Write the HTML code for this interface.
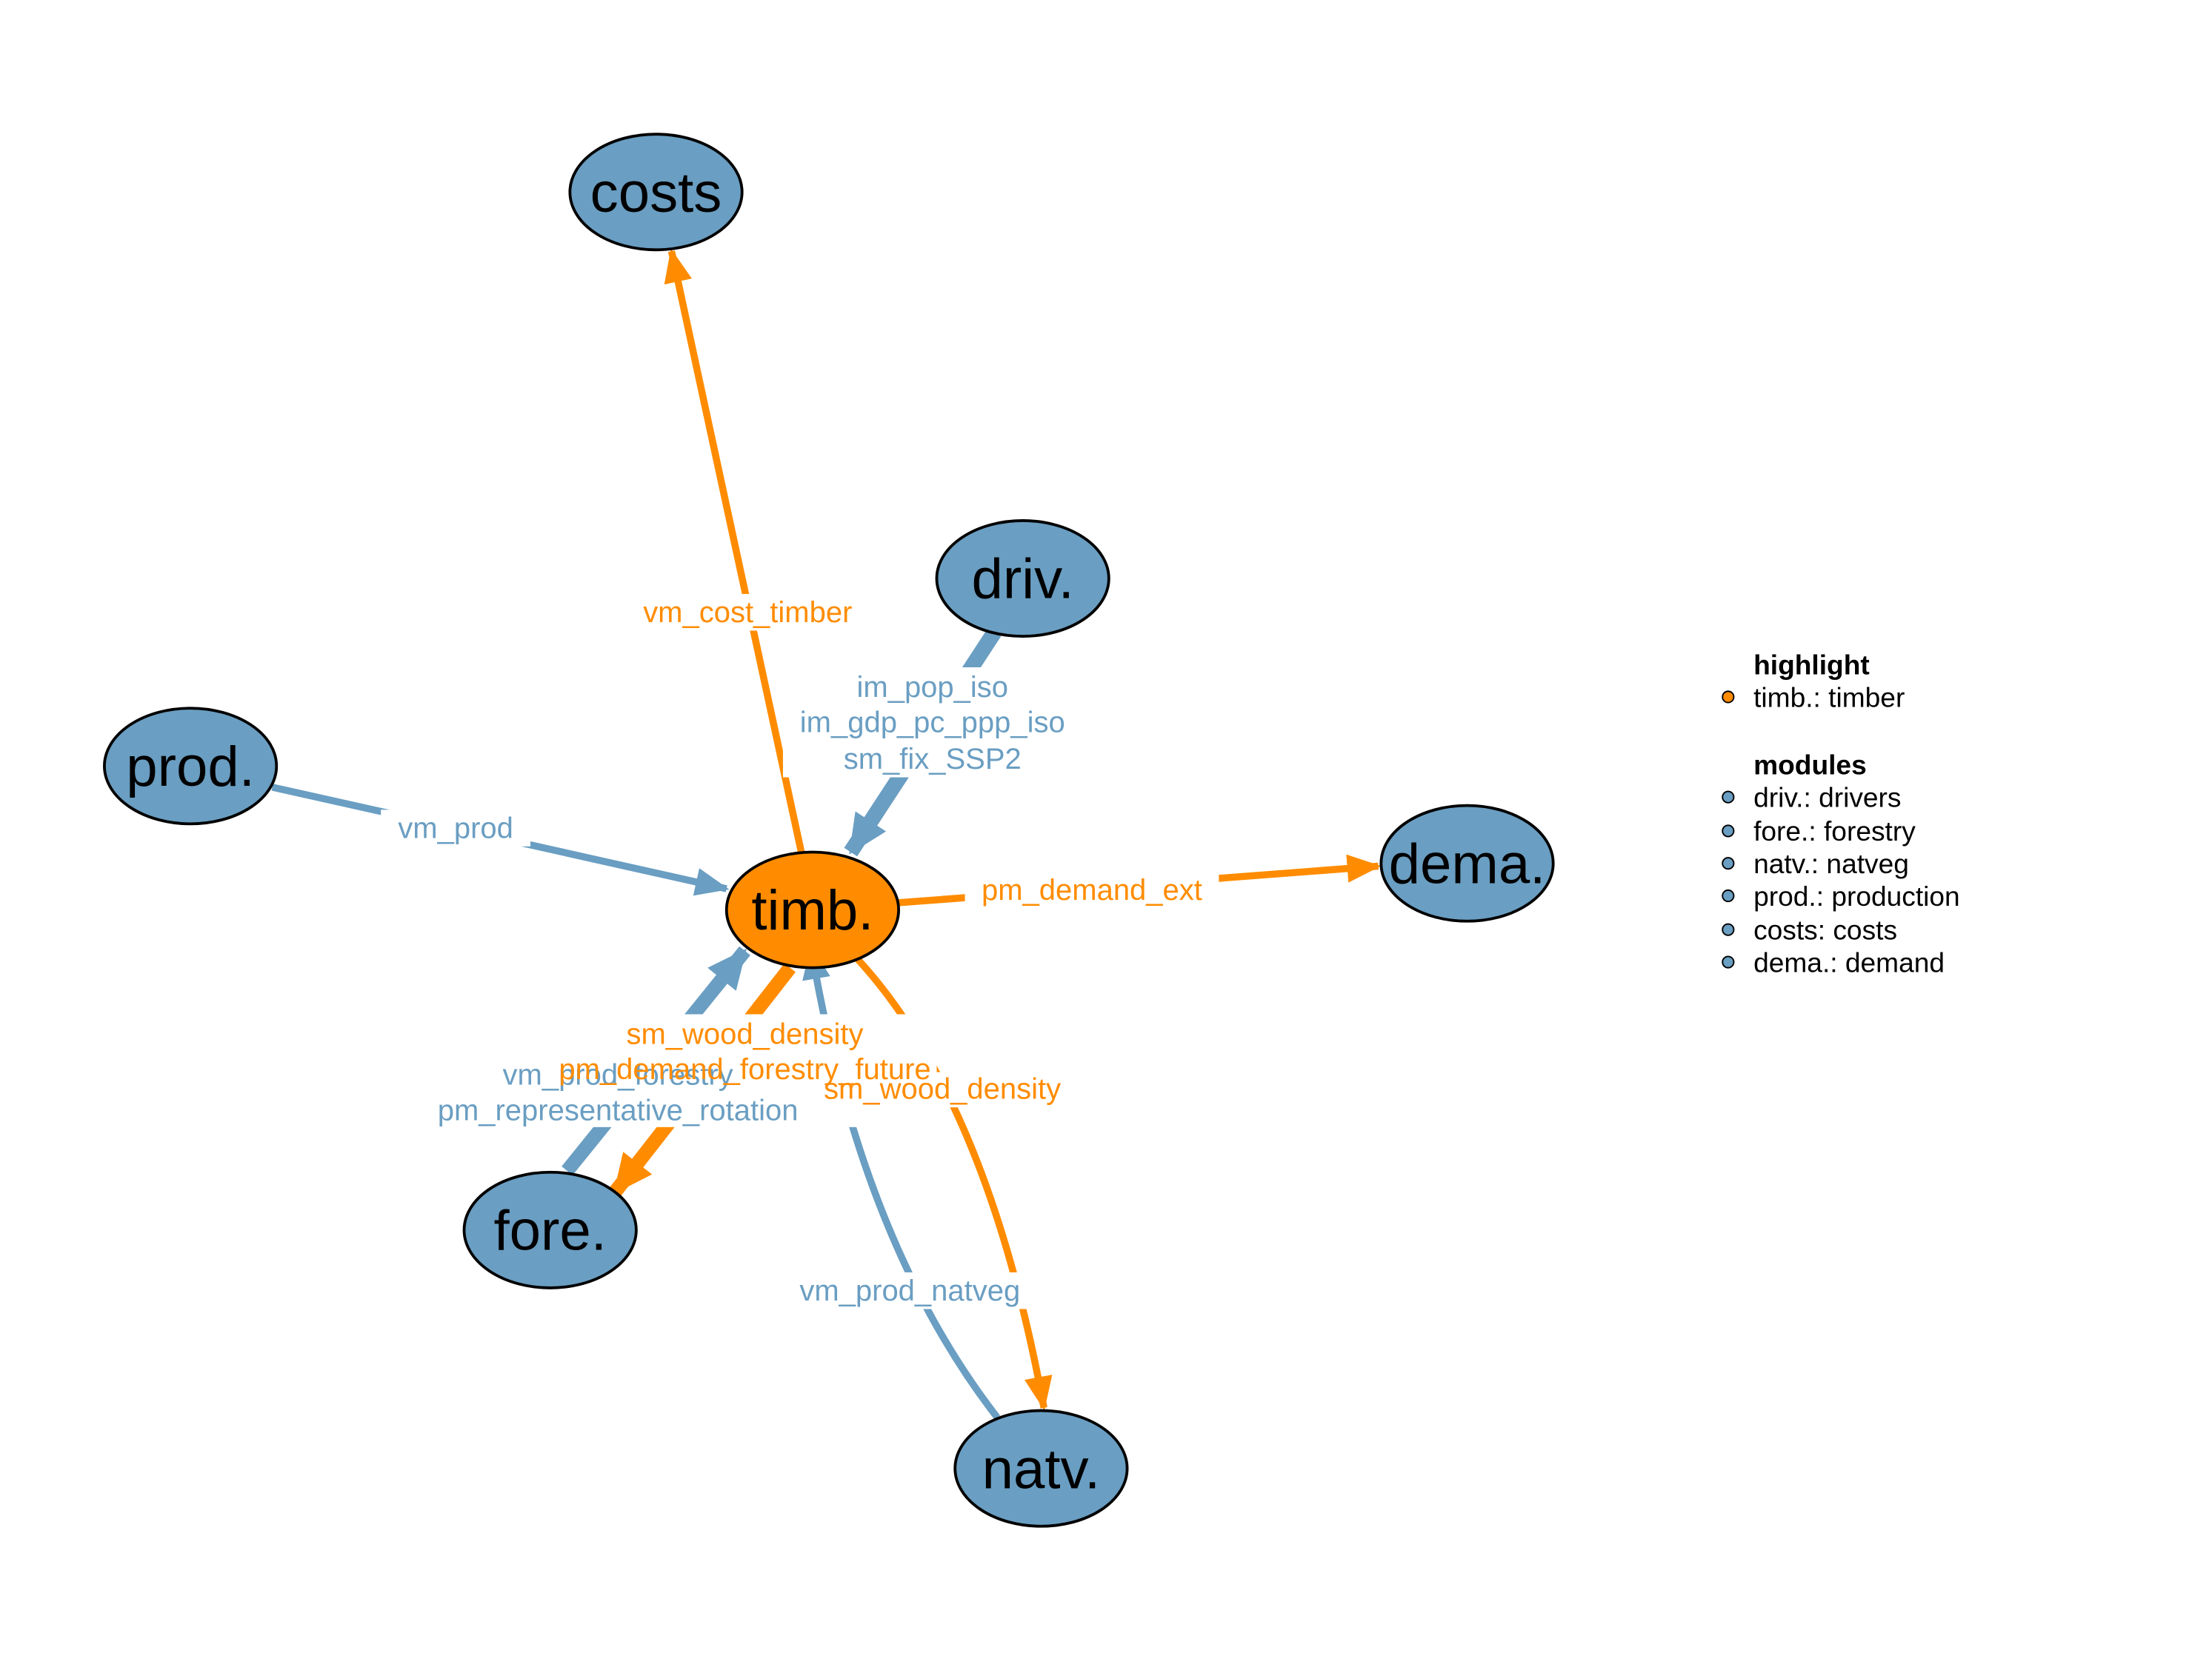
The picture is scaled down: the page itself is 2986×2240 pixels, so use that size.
<!DOCTYPE html>
<html><head><meta charset="utf-8"><style>
html,body{margin:0;padding:0;background:#fff;}
svg{display:block;}
text{font-family:"Liberation Sans",sans-serif;}
</style></head><body>
<svg width="2986" height="2240" viewBox="0 0 1568 1176" xmlns="http://www.w3.org/2000/svg">
<defs>
<marker id="ao" markerUnits="userSpaceOnUse" markerWidth="24" markerHeight="20" refX="22" refY="10" orient="auto"><path d="M0,0 L24,10 L0,20 Z" fill="#FF8C00"/></marker>
<marker id="ab" markerUnits="userSpaceOnUse" markerWidth="24" markerHeight="20" refX="22" refY="10" orient="auto"><path d="M0,0 L24,10 L0,20 Z" fill="#6A9EC2"/></marker>
<marker id="aoL" markerUnits="userSpaceOnUse" markerWidth="28" markerHeight="26" refX="26" refY="13" orient="auto"><path d="M0,0 L28,13 L0,26 Z" fill="#FF8C00"/></marker>
<marker id="abL" markerUnits="userSpaceOnUse" markerWidth="28" markerHeight="26" refX="26" refY="13" orient="auto"><path d="M0,0 L28,13 L0,26 Z" fill="#6A9EC2"/></marker>
</defs>
<g fill="none" stroke-linecap="butt">
<path d="M568,604 L476,178" stroke="#FF8C00" stroke-width="5" marker-end="url(#ao)"/>
<path d="M705,448 L603,604" stroke="#6A9EC2" stroke-width="11" marker-end="url(#abL)"/>
<path d="M193,558 L515,630" stroke="#6A9EC2" stroke-width="5" marker-end="url(#ab)"/>
<path d="M636,640 L977,614" stroke="#FF8C00" stroke-width="5" marker-end="url(#ao)"/>
<path d="M402,830 L528,674" stroke="#6A9EC2" stroke-width="10" marker-end="url(#abL)"/>
<path d="M560,686 L436,845" stroke="#FF8C00" stroke-width="10" marker-end="url(#aoL)"/>
<path d="M707,1005 Q610,880 575,672" stroke="#6A9EC2" stroke-width="5" marker-end="url(#ab)"/>
<path d="M608,680 Q700,780 740,998" stroke="#FF8C00" stroke-width="5" marker-end="url(#ao)"/>
</g>
<g font-size="21" text-anchor="middle">
<rect x="448" y="421" width="164" height="26" fill="#fff"/>
<text x="530" y="441" fill="#FF8C00">vm_cost_timber</text>
<rect x="555" y="473" width="212" height="78" fill="#fff"/>
<text x="661" y="494" fill="#6A9EC2">im_pop_iso</text>
<text x="661" y="519" fill="#6A9EC2">im_gdp_pc_ppp_iso</text>
<text x="661" y="545" fill="#6A9EC2">sm_fix_SSP2</text>
<rect x="270" y="574" width="106" height="26" fill="#fff"/>
<text x="323" y="594" fill="#6A9EC2">vm_prod</text>
<rect x="684" y="618" width="180" height="26" fill="#fff"/>
<text x="774" y="638" fill="#FF8C00">pm_demand_ext</text>
<rect x="306" y="719" width="358" height="80" fill="#fff"/>
<rect x="584" y="760" width="170" height="25" fill="#fff"/>
<text x="438" y="769" fill="#6A9EC2">vm_prod_forestry</text>
<text x="438" y="794" fill="#6A9EC2">pm_representative_rotation</text>
<text x="528" y="740" fill="#FF8C00">sm_wood_density</text>
<text x="528" y="765" fill="#FF8C00">pm_demand_forestry_future</text>
<text x="668" y="779" fill="#FF8C00">sm_wood_density</text>
<rect x="558" y="902" width="174" height="26" fill="#fff"/>
<text x="645" y="922" fill="#6A9EC2">vm_prod_natveg</text>
</g>
<g stroke="#000" stroke-width="2">
<ellipse cx="465" cy="136" rx="61" ry="41" fill="#6A9EC2"/>
<ellipse cx="725" cy="410" rx="61" ry="41" fill="#6A9EC2"/>
<ellipse cx="135" cy="543" rx="61" ry="41" fill="#6A9EC2"/>
<ellipse cx="576" cy="645" rx="61" ry="41" fill="#FF8C00"/>
<ellipse cx="1040" cy="612" rx="61" ry="41" fill="#6A9EC2"/>
<ellipse cx="390" cy="872" rx="61" ry="41" fill="#6A9EC2"/>
<ellipse cx="738" cy="1041" rx="61" ry="41" fill="#6A9EC2"/>
</g>
<g font-size="40" text-anchor="middle" fill="#000">
<text x="465" y="150">costs</text>
<text x="725" y="424">driv.</text>
<text x="135" y="557">prod.</text>
<text x="576" y="659">timb.</text>
<text x="1040" y="626">dema.</text>
<text x="390" y="886">fore.</text>
<text x="738" y="1055">natv.</text>
</g>
<g font-size="19.5" fill="#000">
<text x="1243" y="478" font-weight="bold">highlight</text>
<circle cx="1225" cy="494" r="4" fill="#FF8C00" stroke="#000" stroke-width="1"/>
<text x="1243" y="501">timb.: timber</text>
<text x="1243" y="549" font-weight="bold">modules</text>
<g fill="#6A9EC2" stroke="#000" stroke-width="1">
<circle cx="1225" cy="565" r="4"/><circle cx="1225" cy="589" r="4"/><circle cx="1225" cy="612" r="4"/>
<circle cx="1225" cy="635" r="4"/><circle cx="1225" cy="659" r="4"/><circle cx="1225" cy="682" r="4"/>
</g>
<text x="1243" y="572">driv.: drivers</text>
<text x="1243" y="596">fore.: forestry</text>
<text x="1243" y="619">natv.: natveg</text>
<text x="1243" y="642">prod.: production</text>
<text x="1243" y="666">costs: costs</text>
<text x="1243" y="689">dema.: demand</text>
</g>
</svg>
</body></html>
